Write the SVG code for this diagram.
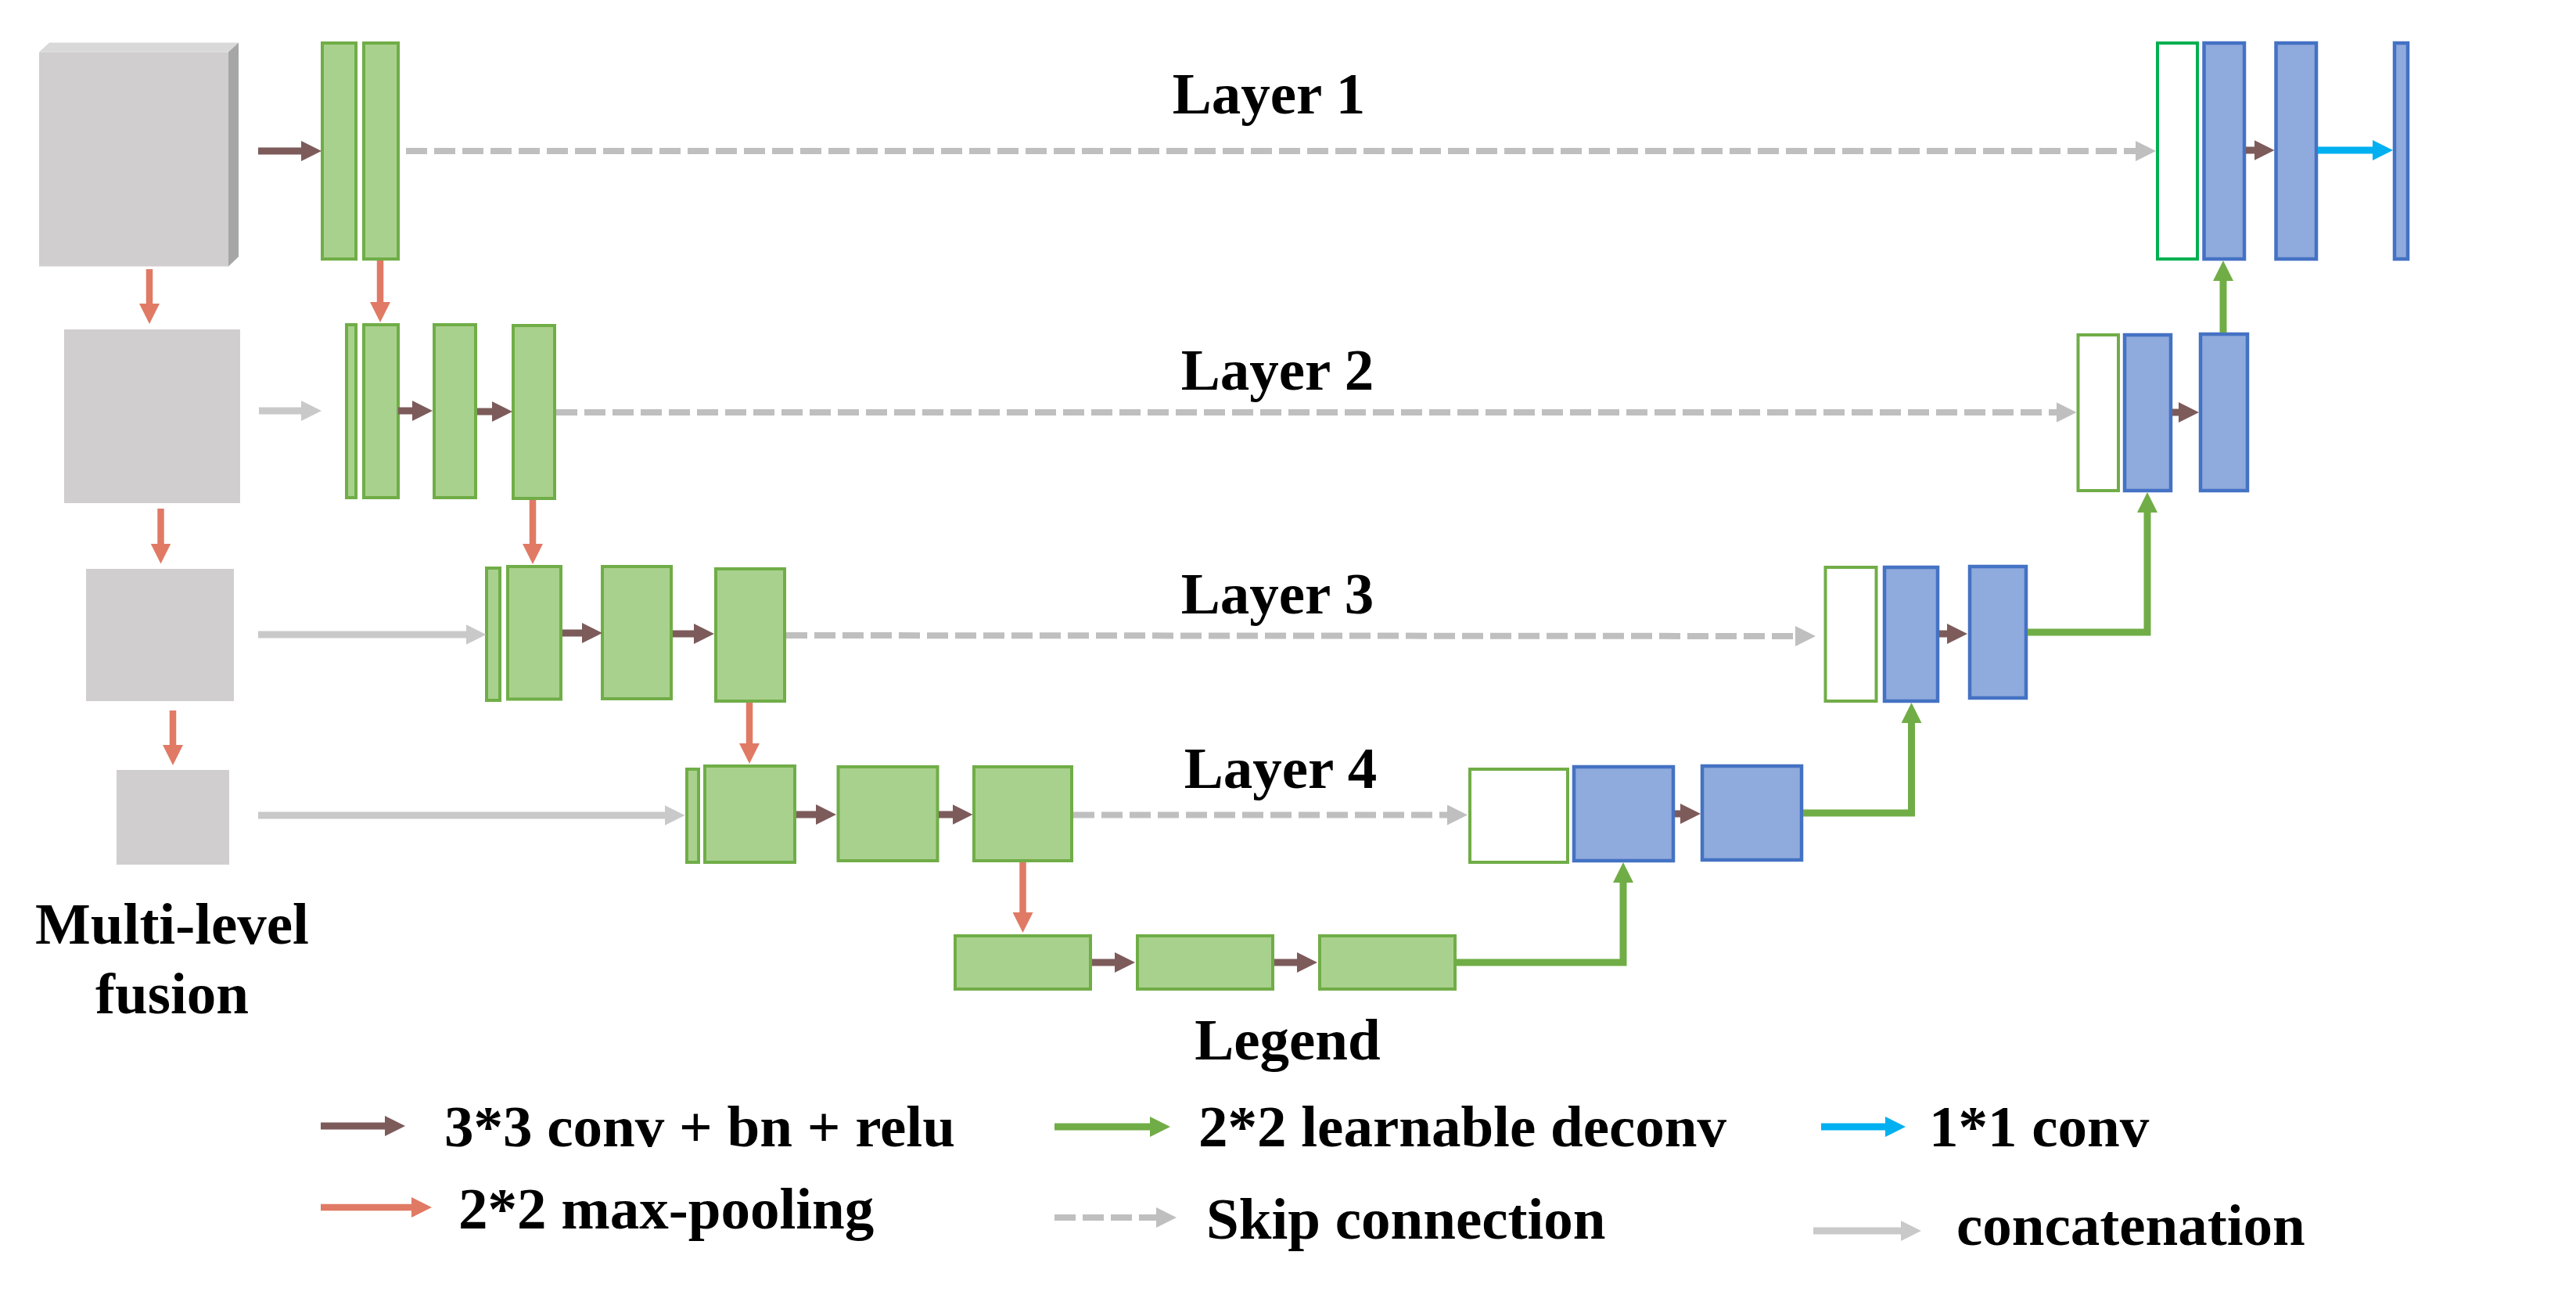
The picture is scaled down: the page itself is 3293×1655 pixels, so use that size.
<svg xmlns="http://www.w3.org/2000/svg" width="3293" height="1655" viewBox="0 0 3293 1655">
<style>
.g{fill:#A9D18E;stroke:#70AD47;stroke-width:4}
.b{fill:#8FAADC;stroke:#4472C4;stroke-width:4.5}
.w{fill:#FFFFFF;stroke:#70AD47;stroke-width:4}
.w1{fill:#FFFFFF;stroke:#00B050;stroke-width:4}
.in{fill:#D0CECE}
.conv{stroke:#7D5B5B;stroke-width:9;fill:none;marker-end:url(#mConv)}
.pool{stroke:#E07A65;stroke-width:8.5;fill:none;marker-end:url(#mPool)}
.cat{stroke:#C9C9C9;stroke-width:9;fill:none;marker-end:url(#mCat)}
.skip{stroke:#BFBFBF;stroke-width:8;fill:none;stroke-dasharray:27 9;marker-end:url(#mSkip)}
.dec{stroke:#70AD47;stroke-width:9;fill:none;stroke-linejoin:miter;marker-end:url(#mDec)}
.one{stroke:#00B0F0;stroke-width:9;fill:none;marker-end:url(#mOne)}
text{font-family:"Liberation Serif","Times New Roman",serif;font-weight:bold;font-size:75px;fill:#000}
</style>
<defs>
<marker id="mConv" viewBox="0 0 26 26" refX="16" refY="13" markerWidth="26" markerHeight="26" markerUnits="userSpaceOnUse" orient="auto"><path d="M0,0 L26,13 L0,26 z" fill="#7D5B5B"/></marker>
<marker id="mPool" viewBox="0 0 26 26" refX="16" refY="13" markerWidth="26" markerHeight="26" markerUnits="userSpaceOnUse" orient="auto"><path d="M0,0 L26,13 L0,26 z" fill="#E07A65"/></marker>
<marker id="mCat" viewBox="0 0 26 26" refX="16" refY="13" markerWidth="26" markerHeight="26" markerUnits="userSpaceOnUse" orient="auto"><path d="M0,0 L26,13 L0,26 z" fill="#C9C9C9"/></marker>
<marker id="mSkip" viewBox="0 0 26 26" refX="16" refY="13" markerWidth="26" markerHeight="26" markerUnits="userSpaceOnUse" orient="auto"><path d="M0,0 L26,13 L0,26 z" fill="#BFBFBF"/></marker>
<marker id="mDec" viewBox="0 0 26 26" refX="16" refY="13" markerWidth="26" markerHeight="26" markerUnits="userSpaceOnUse" orient="auto"><path d="M0,0 L26,13 L0,26 z" fill="#70AD47"/></marker>
<marker id="mOne" viewBox="0 0 26 26" refX="16" refY="13" markerWidth="26" markerHeight="26" markerUnits="userSpaceOnUse" orient="auto"><path d="M0,0 L26,13 L0,26 z" fill="#00B0F0"/></marker>
</defs>

<!-- Inputs (multi-level fusion) -->
<g id="input1">
<rect class="in" x="50" y="66.5" width="242" height="274"/>
<polygon points="50,66.5 63,54.5 305,54.5 292,66.5" fill="#D9D9D9"/>
<polygon points="292,66.5 305,54.5 305,328 292,340.5" fill="#A6A6A6"/>
</g>
<g id="input2"><rect class="in" x="82" y="421" width="225" height="222"/></g>
<g id="input3"><rect class="in" x="110" y="727" width="189" height="169"/></g>
<g id="input4"><rect class="in" x="149" y="984" width="144" height="121"/></g>

<!-- Encoder layer 1 -->
<g id="enc1a"><rect class="g" x="412" y="55" width="43" height="276"/></g>
<g id="enc1b"><rect class="g" x="465" y="55" width="44" height="276"/></g>
<!-- Encoder layer 2 -->
<g id="enc2a"><rect class="g" x="443" y="415" width="12" height="221"/></g>
<g id="enc2b"><rect class="g" x="465" y="415" width="44" height="221"/></g>
<g id="enc2c"><rect class="g" x="555" y="415" width="53" height="221"/></g>
<g id="enc2d"><rect class="g" x="656" y="416" width="53" height="221"/></g>
<!-- Encoder layer 3 -->
<g id="enc3a"><rect class="g" x="622" y="726" width="17" height="169"/></g>
<g id="enc3b"><rect class="g" x="649" y="724" width="68" height="169.5"/></g>
<g id="enc3c"><rect class="g" x="770" y="724" width="88" height="169"/></g>
<g id="enc3d"><rect class="g" x="915" y="727" width="88" height="169"/></g>
<!-- Encoder layer 4 -->
<g id="enc4a"><rect class="g" x="878" y="983" width="15" height="119"/></g>
<g id="enc4b"><rect class="g" x="901" y="979" width="115" height="123"/></g>
<g id="enc4c"><rect class="g" x="1071.5" y="980" width="127" height="120"/></g>
<g id="enc4d"><rect class="g" x="1245" y="980" width="125" height="120"/></g>
<!-- Bottleneck -->
<g id="bot1"><rect class="g" x="1221" y="1196" width="173" height="68"/></g>
<g id="bot2"><rect class="g" x="1454" y="1196" width="173" height="68"/></g>
<g id="bot3"><rect class="g" x="1687" y="1196" width="173" height="68"/></g>
<!-- Decoder layer 4 -->
<g id="dec4w"><rect class="w" x="1879" y="983" width="125" height="119"/></g>
<g id="dec4a"><rect class="b" x="2012" y="980" width="127" height="120"/></g>
<g id="dec4b"><rect class="b" x="2176" y="979" width="127" height="120"/></g>
<!-- Decoder layer 3 -->
<g id="dec3w"><rect class="w" x="2333.5" y="725" width="65" height="171"/></g>
<g id="dec3a"><rect class="b" x="2409" y="725" width="68" height="171"/></g>
<g id="dec3b"><rect class="b" x="2518" y="724" width="72" height="168"/></g>
<!-- Decoder layer 2 -->
<g id="dec2w"><rect class="w" x="2656.5" y="428" width="51.5" height="199"/></g>
<g id="dec2a"><rect class="b" x="2716" y="428" width="59" height="199"/></g>
<g id="dec2b"><rect class="b" x="2813" y="427" width="60" height="200"/></g>
<!-- Decoder layer 1 -->
<g id="dec1w"><rect class="w1" x="2758" y="55" width="51" height="276"/></g>
<g id="dec1a"><rect class="b" x="2817.5" y="55" width="51.5" height="276"/></g>
<g id="dec1b"><rect class="b" x="2909.5" y="55" width="51.5" height="276"/></g>
<g id="out"><rect class="b" x="3061" y="55" width="17" height="276"/></g>

<!-- Connectors -->
<g id="connectors">
<!-- layer 1 -->
<line class="conv" x1="330" y1="193" x2="401" y2="193"/>
<line class="skip" x1="519" y1="193" x2="2746" y2="193"/>
<line class="pool" x1="191" y1="344" x2="191" y2="404"/>
<line class="pool" x1="486" y1="333" x2="486" y2="402"/>
<line class="conv" x1="2871" y1="192" x2="2897.5" y2="192"/>
<line class="one" x1="2963" y1="192" x2="3049" y2="192"/>
<!-- layer 2 -->
<line class="cat" x1="331" y1="525" x2="401" y2="525"/>
<line class="conv" x1="509" y1="525" x2="543" y2="525"/>
<line class="conv" x1="610" y1="526" x2="645" y2="526"/>
<line class="skip" x1="711" y1="527" x2="2644.5" y2="527"/>
<line class="pool" x1="205.5" y1="650" x2="205.5" y2="710.5"/>
<line class="pool" x1="681" y1="639" x2="681" y2="711"/>
<line class="conv" x1="2777" y1="527" x2="2801" y2="527"/>
<line class="dec" x1="2842" y1="425" x2="2842" y2="343"/>
<!-- layer 3 -->
<line class="cat" x1="330" y1="811" x2="611.5" y2="811"/>
<line class="conv" x1="719" y1="809" x2="760" y2="809"/>
<line class="conv" x1="860" y1="810" x2="903" y2="810"/>
<line class="skip" x1="1005" y1="812" x2="2311" y2="813"/>
<line class="pool" x1="221" y1="908" x2="221" y2="968"/>
<line class="pool" x1="958" y1="898" x2="958" y2="966"/>
<line class="conv" x1="2479" y1="810" x2="2505" y2="810"/>
<polyline class="dec" points="2592,808 2745,808 2745,639"/>
<!-- layer 4 -->
<line class="cat" x1="330" y1="1042" x2="865.5" y2="1042"/>
<line class="conv" x1="1018" y1="1041" x2="1059" y2="1041"/>
<line class="conv" x1="1200" y1="1041" x2="1233.5" y2="1041"/>
<line class="skip" x1="1372" y1="1041.5" x2="1866" y2="1041.5"/>
<line class="pool" x1="1307.5" y1="1102" x2="1307.5" y2="1182"/>
<line class="conv" x1="2141" y1="1040" x2="2164" y2="1040"/>
<polyline class="dec" points="2305,1039 2443.5,1039 2443.5,908"/>
<!-- bottleneck -->
<line class="conv" x1="1396" y1="1230" x2="1441" y2="1230"/>
<line class="conv" x1="1629" y1="1230" x2="1674" y2="1230"/>
<polyline class="dec" points="1862,1230 2075,1230 2075,1112"/>
</g>

<!-- Labels -->
<g id="labels">
<text x="1622" y="145" text-anchor="middle">Layer 1</text>
<text x="1633" y="498" text-anchor="middle">Layer 2</text>
<text x="1633" y="784" text-anchor="middle">Layer 3</text>
<text x="1637" y="1007" text-anchor="middle">Layer 4</text>
<text x="220" y="1206" text-anchor="middle">Multi-level</text>
<text x="220" y="1295" text-anchor="middle">fusion</text>
</g>

<!-- Legend -->
<g id="legend">
<text x="1646" y="1354" text-anchor="middle">Legend</text>
<line class="conv" x1="410" y1="1439" x2="508" y2="1439"/>
<text x="568" y="1465">3*3 conv + bn + relu</text>
<line class="pool" x1="410" y1="1543" x2="542" y2="1543"/>
<text x="586" y="1570">2*2 max-pooling</text>
<line class="dec" x1="1348" y1="1440" x2="1486" y2="1440"/>
<text x="1532" y="1465">2*2 learnable deconv</text>
<line class="skip" x1="1348" y1="1556" x2="1494" y2="1556"/>
<text x="1542" y="1583">Skip connection</text>
<line class="one" x1="2328" y1="1440" x2="2426" y2="1440"/>
<text x="2466" y="1465">1*1 conv</text>
<line class="cat" x1="2318" y1="1573" x2="2446" y2="1573"/>
<text x="2501" y="1591">concatenation</text>
</g>
</svg>
